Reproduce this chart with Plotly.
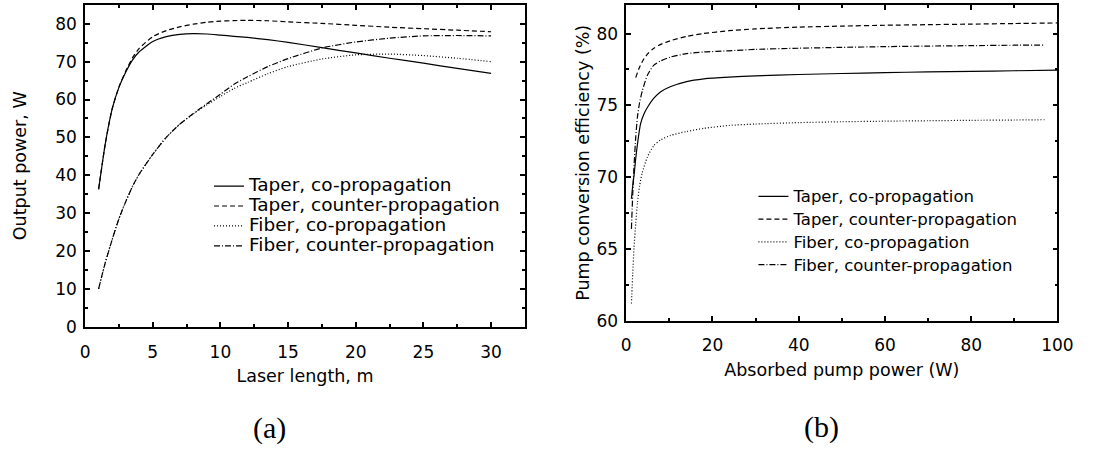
import plotly.graph_objects as go

# ---------------- data: panel (a) ----------------
laser_length = [1, 1.5, 2, 2.5, 3, 3.5, 4, 5, 6, 7, 8, 9, 10, 11, 12, 13.5, 15,
                17.5, 20, 22.5, 25, 27.5, 30]
taper_co_a = [36.3, 48.5, 57.5, 63.2, 67.2, 70.4, 72.6, 75.3, 76.6, 77.2, 77.4, 77.3,
              77.0, 76.7, 76.4, 75.8, 75.1, 73.7, 72.3, 70.9, 69.6, 68.2, 66.9]
taper_counter_a = [36.3, 48.5, 57.5, 63.3, 67.5, 71.0, 73.5, 76.6, 78.2, 79.2, 79.9, 80.4,
                   80.7, 80.85, 80.9, 80.8, 80.5, 80.1, 79.6, 79.1, 78.7, 78.3, 77.9]
fiber_co_a = [10, 17, 23, 28.5, 33, 37, 40.3, 45.5, 50, 53.5, 56.2, 58.6,
              60.8, 62.9, 64.5, 66.8, 68.7, 70.7, 71.8, 72.0, 71.6, 70.9, 70.0]
fiber_counter_a = [10, 17, 23, 28.5, 33, 37, 40.3, 45.5, 50, 53.5, 56.3, 58.9,
                   61.4, 64.0, 66.0, 68.7, 70.8, 73.6, 75.2, 76.2, 76.8, 76.9, 76.8]

# ---------------- data: panel (b) ----------------
pump_taper_co = [1.2, 1.5, 1.8, 2.2, 2.6, 3.3, 4.1, 4.9, 6.4, 8, 10.2, 14, 18, 23.8,
                 30, 40, 50, 60, 70, 80, 90, 100]
eff_taper_co = [68.5, 69.4, 70.1, 71.3, 72.3, 73.7, 74.4, 74.85, 75.5, 75.95, 76.3, 76.66,
                76.85, 76.97, 77.05, 77.15, 77.22, 77.28, 77.33, 77.37, 77.41, 77.45]
pump_taper_counter = [2.2, 3, 4.1, 5, 6.4, 8, 10.2, 14, 17.8, 23.8, 30, 40, 50, 60, 70,
                      80, 90, 100]
eff_taper_counter = [76.93, 77.6, 78.25, 78.6, 78.98, 79.25, 79.5, 79.8, 80.0, 80.2, 80.33,
                     80.45, 80.52, 80.58, 80.62, 80.66, 80.7, 80.74]
pump_fiber = [1.2, 1.5, 1.8, 2.2, 2.6, 3.1, 3.7, 4.9, 6.4, 8, 10.2, 14, 18, 23.8, 30,
              40, 50, 60, 70, 80, 90, 97]
eff_fiber_co = [61.2, 63.3, 65.07, 66.8, 68.25, 69.4, 70.3, 71.4, 72.2, 72.6, 72.9, 73.18,
                73.4, 73.6, 73.7, 73.8, 73.86, 73.9, 73.93, 73.96, 73.98, 74.0]
eff_fiber_counter = [66.4, 68.8, 70.75, 72.8, 74.2, 75.2, 75.98, 77.1, 77.8, 78.1, 78.36,
                     78.6, 78.72, 78.8, 78.9, 78.98, 79.04, 79.09, 79.13, 79.16, 79.19, 79.2]

names = ["Taper, co-propagation", "Taper, counter-propagation",
         "Fiber, co-propagation", "Fiber, counter-propagation"]
dashes = ["solid", "5px,3px", "1px,2px", "6px,2px,1px,2px"]

FONT = "DejaVu Sans"
fig = go.Figure()

series_a = [taper_co_a, taper_counter_a, fiber_co_a, fiber_counter_a]
for name, ys, d in zip(names, series_a, dashes):
    fig.add_trace(go.Scatter(
        x=laser_length, y=ys, mode="lines", xaxis="x", yaxis="y",
        name='<span style="font-size:18.5px">' + name + '</span>',
        legend="legend",
        line=dict(color="black", width=1.2, dash=d, shape="spline", smoothing=0.6)))

series_b = [(pump_taper_co, eff_taper_co), (pump_taper_counter, eff_taper_counter),
            (pump_fiber, eff_fiber_co), (pump_fiber, eff_fiber_counter)]
for name, (xs, ys), d in zip(names, series_b, dashes):
    fig.add_trace(go.Scatter(
        x=xs, y=ys, mode="lines", xaxis="x2", yaxis="y2",
        name='<span style="font-size:16.5px">' + name + '</span>',
        legend="legend2",
        line=dict(color="black", width=1.2, dash=d, shape="spline", smoothing=0.6)))

axis_common = dict(
    showline=True, linecolor="black", linewidth=1.5, mirror="allticks",
    ticks="inside", ticklen=5, tickwidth=1.5, tickcolor="black",
    showgrid=False, zeroline=False,
    tickfont=dict(family=FONT, size=17, color="black"),
)


def ax(**kw):
    d = dict(axis_common)
    d.update(kw)
    return d


minor_style = dict(ticks="inside", ticklen=3, tickwidth=1.5, tickcolor="black")

fig.update_layout(
    width=1099, height=452,
    margin=dict(l=0, r=0, t=0, b=0),
    paper_bgcolor="white", plot_bgcolor="white",
    font=dict(family=FONT, color="black"),
    xaxis=ax(domain=[0.0743, 0.4823], range=[0, 32.5], tick0=0, dtick=5,
             minor=dict(dtick=2.5, **minor_style), anchor="y", ticklabelstandoff=9,
             title=dict(text="Laser length, m", font=dict(family=FONT, size=17.5), standoff=9)),
    yaxis=ax(domain=[0.261, 0.989], range=[0, 85], tick0=0, dtick=10,
             minor=dict(dtick=5, **minor_style), anchor="x", ticklabelstandoff=3,
             title=dict(text="Output power, W", font=dict(family=FONT, size=17.5), standoff=24)),
    xaxis2=ax(domain=[0.5763, 0.9763], range=[0, 100], tick0=0, dtick=20,
              minor=dict(dtick=10, **minor_style), anchor="y2", ticklabelstandoff=8,
              title=dict(text="Absorbed pump power (W)", font=dict(family=FONT, size=17.5), standoff=10)),
    yaxis2=ax(domain=[0.2743, 0.989], range=[60, 82], tick0=60, dtick=5,
              minor=dict(dtick=2.5, **minor_style), anchor="x2", ticklabelstandoff=3,
              title=dict(text="Pump conversion efficiency (%)", font=dict(family=FONT, size=17.5), standoff=2)),
    legend=dict(x=208 / 1099, y=1 - 175 / 452, xanchor="left", yanchor="top",
                bgcolor="rgba(0,0,0,0)", font=dict(family=FONT, size=13, color="black")),
    legend2=dict(x=763 / 1099, y=1 - 184 / 452, xanchor="left", yanchor="top",
                 bgcolor="rgba(0,0,0,0)", font=dict(family=FONT, size=15.2, color="black")),
    annotations=[
        dict(text="(a)", x=270 / 1099, y=1 - 438 / 452, xref="paper", yref="paper",
             xanchor="center", yanchor="middle",
             showarrow=False, font=dict(family="Liberation Serif", size=30, color="black")),
        dict(text="(b)", x=832 / 1099, y=1 - 437 / 452, xref="paper", yref="paper",
             xanchor="center", yanchor="middle",
             showarrow=False, font=dict(family="Liberation Serif", size=30, color="black")),
    ],
)

fig.write_html("out.html")
